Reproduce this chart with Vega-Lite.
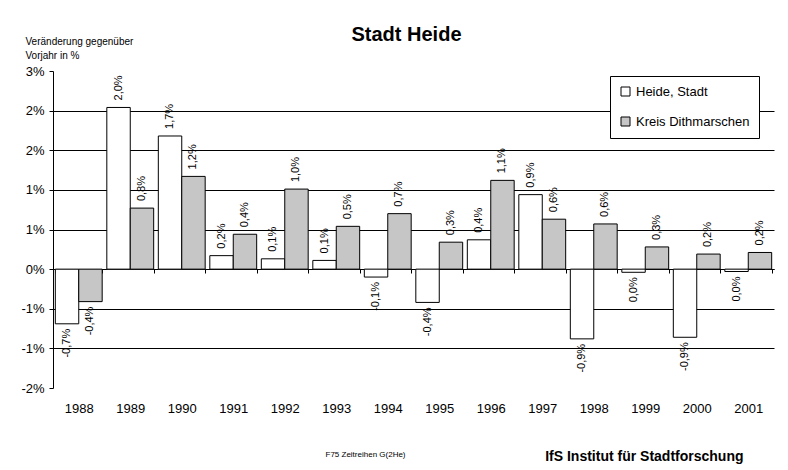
{
  "$schema": "https://vega.github.io/schema/vega-lite/v6.json",
  "width": 721,
  "height": 317,
  "autosize": {"type": "none"},
  "padding": {"left": 53, "top": 71, "right": 14, "bottom": 82},
  "background": "white",
  "config": {
    "font": "Liberation Sans",
    "view": {"stroke": null},
    "locale": {"number": {"decimal": ",", "thousands": ".", "grouping": [3], "currency": ["", " €"], "minus": "-"}}
  },
  "title": {
    "text": "Stadt Heide",
    "fontSize": 20,
    "fontWeight": "bold",
    "font": "Liberation Sans",
    "color": "black",
    "anchor": "middle",
    "frame": "group",
    "baseline": "alphabetic",
    "dx": -7,
    "offset": -25
  },
  "data": {
    "values": [
      {"year": "1988", "series": "Heide, Stadt", "v": -0.0069},
      {"year": "1989", "series": "Heide, Stadt", "v": 0.0204},
      {"year": "1990", "series": "Heide, Stadt", "v": 0.0168},
      {"year": "1991", "series": "Heide, Stadt", "v": 0.0017},
      {"year": "1992", "series": "Heide, Stadt", "v": 0.0013},
      {"year": "1993", "series": "Heide, Stadt", "v": 0.0011},
      {"year": "1994", "series": "Heide, Stadt", "v": -0.0010},
      {"year": "1995", "series": "Heide, Stadt", "v": -0.0042},
      {"year": "1996", "series": "Heide, Stadt", "v": 0.0037},
      {"year": "1997", "series": "Heide, Stadt", "v": 0.0094},
      {"year": "1998", "series": "Heide, Stadt", "v": -0.0088},
      {"year": "1999", "series": "Heide, Stadt", "v": -0.0004},
      {"year": "2000", "series": "Heide, Stadt", "v": -0.0086},
      {"year": "2001", "series": "Heide, Stadt", "v": -0.0003},
      {"year": "1988", "series": "Kreis Dithmarschen", "v": -0.0041},
      {"year": "1989", "series": "Kreis Dithmarschen", "v": 0.0077},
      {"year": "1990", "series": "Kreis Dithmarschen", "v": 0.0117},
      {"year": "1991", "series": "Kreis Dithmarschen", "v": 0.0044},
      {"year": "1992", "series": "Kreis Dithmarschen", "v": 0.0101},
      {"year": "1993", "series": "Kreis Dithmarschen", "v": 0.0054},
      {"year": "1994", "series": "Kreis Dithmarschen", "v": 0.0070},
      {"year": "1995", "series": "Kreis Dithmarschen", "v": 0.0034},
      {"year": "1996", "series": "Kreis Dithmarschen", "v": 0.0112},
      {"year": "1997", "series": "Kreis Dithmarschen", "v": 0.0063},
      {"year": "1998", "series": "Kreis Dithmarschen", "v": 0.0057},
      {"year": "1999", "series": "Kreis Dithmarschen", "v": 0.0028},
      {"year": "2000", "series": "Kreis Dithmarschen", "v": 0.0019},
      {"year": "2001", "series": "Kreis Dithmarschen", "v": 0.0021}
    ]
  },
  "encoding": {
    "y": {
      "field": "v",
      "type": "quantitative",
      "stack": null,
      "scale": {"domain": [-0.015, 0.025], "nice": false},
      "axis": {
        "values": [-0.015, -0.01, -0.005, 0, 0.005, 0.01, 0.015, 0.02, 0.025],
        "format": ".0%",
        "labelFontSize": 13,
        "labelColor": "black",
        "labelPadding": 5,
        "tickSize": 4,
        "tickColor": "black",
        "domainColor": "black",
        "grid": true,
        "gridColor": "black",
        "gridOpacity": {"condition": {"test": "datum.value > 0.024 || datum.value < -0.014", "value": 0}, "value": 1},
        "title": ["Veränderung gegenüber", "Vorjahr in %"],
        "titleAngle": 0,
        "titleAlign": "left",
        "titleBaseline": "alphabetic",
        "titleX": -28,
        "titleY": -27,
        "titleFontSize": 10,
        "titleFontWeight": "normal",
        "titleLineHeight": 14,
        "titleColor": "black"
      }
    }
  },
  "layer": [
    {
      "mark": {"type": "bar", "stroke": "black", "strokeWidth": 1},
      "encoding": {
        "x": {
          "field": "year",
          "type": "nominal",
          "scale": {"paddingInner": 0.09, "paddingOuter": 0.045},
          "axis": {
            "orient": "bottom",
            "offset": -119,
            "labelAngle": 0,
            "labelFontSize": 13,
            "labelColor": "black",
            "labelPadding": 129,
            "tickBand": "extent",
            "tickSize": 4,
            "tickColor": "black",
            "domainColor": "black",
            "grid": false,
            "title": "IfS Institut für Stadtforschung",
            "titleFontSize": 14,
            "titleFontWeight": "bold",
            "titleColor": "black",
            "titleAlign": "right",
            "titleBaseline": "alphabetic",
            "titleX": 690,
            "titleY": 191
          }
        },
        "xOffset": {"field": "series", "type": "nominal", "scale": {"paddingInner": 0}},
        "y2": {"datum": 0},
        "fill": {
          "field": "series",
          "type": "nominal",
          "scale": {"domain": ["Heide, Stadt", "Kreis Dithmarschen"], "range": ["white", "#c6c6c6"]},
          "legend": {
            "orient": "none",
            "legendX": 557,
            "legendY": 5,
            "title": null,
            "padding": 9,
            "strokeColor": "black",
            "fillColor": "white",
            "symbolType": "square",
            "symbolSize": 81,
            "symbolStrokeColor": "black",
            "symbolStrokeWidth": 1,
            "labelFontSize": 13,
            "labelColor": "black",
            "labelOffset": 4,
            "rowPadding": 16
          }
        }
      }
    },
    {
      "transform": [{"filter": "datum.v >= 0"}],
      "mark": {"type": "text", "angle": 270, "align": "left", "baseline": "middle", "dx": 7, "fontSize": 11, "color": "black"},
      "encoding": {
        "x": {
          "field": "year",
          "type": "nominal",
          "axis": {
            "orient": "bottom",
            "domain": false,
            "ticks": false,
            "labels": false,
            "grid": false,
            "title": "F75 Zeitreihen  G(2He)",
            "titleFontSize": 8,
            "titleFontWeight": "normal",
            "titleColor": "black",
            "titleAlign": "left",
            "titleBaseline": "alphabetic",
            "titleX": 272,
            "titleY": 68
          }
        },
        "xOffset": {"field": "series", "type": "nominal"},
        "text": {"field": "v", "type": "quantitative", "format": ".1%"}
      }
    },
    {
      "transform": [{"filter": "datum.v < 0"}],
      "mark": {"type": "text", "angle": 270, "align": "right", "baseline": "middle", "dx": -5, "fontSize": 11, "color": "black"},
      "encoding": {
        "x": {"field": "year", "type": "nominal", "axis": null},
        "xOffset": {"field": "series", "type": "nominal"},
        "text": {"field": "v", "type": "quantitative", "format": ".1%"}
      }
    }
  ],
  "resolve": {"axis": {"x": "independent"}}
}
